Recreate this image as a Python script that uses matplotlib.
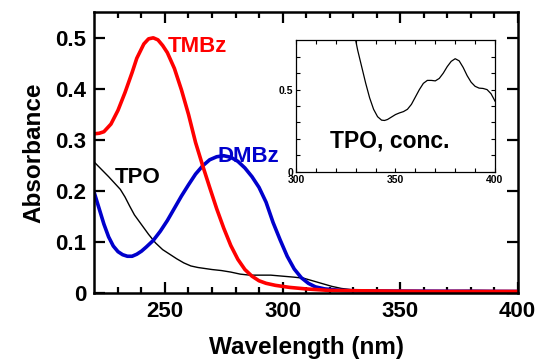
import matplotlib
matplotlib.use('Agg')
import matplotlib.pyplot as plt

plt.rcParams['font.family'] = ['Liberation Sans', 'DejaVu Sans']
plt.rcParams['font.weight'] = 'bold'

# main spectra (nm, absorbance)
wl_tmbz = [220, 222, 224, 227, 230, 233, 236, 238, 241, 243, 245, 247, 249, 251,
           254, 257, 260, 263, 266, 269, 272, 275, 278, 281, 284, 287, 290, 293,
           297, 303, 310, 320, 340, 360, 400]
abs_tmbz = [0.312, 0.313, 0.316, 0.331, 0.358, 0.393, 0.432, 0.46, 0.488, 0.498,
            0.50, 0.496, 0.485, 0.471, 0.44, 0.398, 0.35, 0.295, 0.25, 0.207,
            0.165, 0.127, 0.093, 0.066, 0.046, 0.033, 0.024, 0.019, 0.015, 0.011,
            0.008, 0.005, 0.004, 0.003, 0.003]

wl_dmbz = [220, 222, 224, 226, 228, 230, 232, 234, 236, 238, 240, 242, 245, 248,
           251, 254, 257, 260, 263, 266, 269, 272, 275, 278, 281, 284, 287, 290,
           293, 296, 299, 302, 305, 308, 311, 314, 318, 325, 335, 400]
abs_dmbz = [0.195, 0.165, 0.135, 0.11, 0.092, 0.081, 0.075, 0.072, 0.072, 0.076,
            0.082, 0.09, 0.103, 0.121, 0.142, 0.166, 0.19, 0.212, 0.233, 0.249,
            0.261, 0.267, 0.269, 0.266, 0.258, 0.245, 0.228, 0.207, 0.178, 0.138,
            0.104, 0.072, 0.047, 0.03, 0.019, 0.012, 0.008, 0.005, 0.004, 0.003]

wl_tpo = [220, 223, 226, 229, 231, 233, 235, 237, 240, 243, 246, 249, 252, 255,
          258, 261, 264, 267, 270, 274, 278, 282, 286, 290, 295, 300, 305, 309,
          312, 315, 318, 321, 325, 330, 340, 360, 380, 400]
abs_tpo = [0.256, 0.242, 0.228, 0.213, 0.203, 0.188, 0.17, 0.153, 0.134, 0.115,
           0.098, 0.085, 0.076, 0.067, 0.059, 0.053, 0.05, 0.048, 0.046, 0.044,
           0.041, 0.037, 0.035, 0.035, 0.035, 0.033, 0.031, 0.029, 0.025, 0.021,
           0.017, 0.013, 0.009, 0.006, 0.004, 0.004, 0.005, 0.004]

# concentrated TPO (inset)
wl_conc = [330, 331, 333, 335, 337, 339, 341, 343, 344.5, 346, 348, 350, 352, 354,
           356, 358, 360, 362, 364, 366, 368, 370, 372, 374, 376, 378, 380, 382,
           384, 386, 388, 390, 392, 394, 396, 398, 400]
abs_conc = [0.8, 0.74, 0.64, 0.54, 0.45, 0.38, 0.335, 0.314, 0.312, 0.318, 0.333,
            0.348, 0.358, 0.366, 0.38, 0.41, 0.455, 0.5, 0.538, 0.556, 0.556,
            0.553, 0.568, 0.6, 0.64, 0.672, 0.688, 0.675, 0.635, 0.585, 0.545,
            0.52, 0.509, 0.507, 0.5, 0.475, 0.43]

fig = plt.figure(figsize=(5.36, 3.6), dpi=100)
ax = fig.add_axes([0.1763, 0.1861, 0.7892, 0.7797])

ax.plot(wl_tpo, abs_tpo, color='black', lw=1.0)
ax.plot(wl_dmbz, abs_dmbz, color='#0000cc', lw=2.6)
ax.plot(wl_tmbz, abs_tmbz, color='#ff0000', lw=2.6)

ax.set_xlim(220, 400)
ax.set_ylim(0, 0.55)
ax.set_xticks([250, 300, 350, 400])
ax.set_xticks(range(230, 400, 10), minor=True)
ax.set_yticks([0, 0.1, 0.2, 0.3, 0.4, 0.5])
ax.set_yticklabels(['0', '0.1', '0.2', '0.3', '0.4', '0.5'])
ax.tick_params(which='both', direction='in', top=True, right=True, width=1.6,
               labelsize=16, pad=6)
ax.tick_params(which='major', length=8)
ax.tick_params(which='minor', length=4)
for sp in ax.spines.values():
    sp.set_linewidth(1.8)
for lab in ax.get_xticklabels() + ax.get_yticklabels():
    lab.set_fontweight('bold')

ax.set_xlabel('Wavelength (nm)', fontsize=17.5, fontweight='bold', labelpad=10)
ax.set_ylabel('Absorbance', fontsize=17.5, fontweight='bold', labelpad=7)

ax.text(251.3, 0.483, 'TMBz', color='#ff0000', fontsize=16, fontweight='bold',
        ha='left', va='center')
ax.text(272.3, 0.268, 'DMBz', color='#0000cc', fontsize=16, fontweight='bold',
        ha='left', va='center')
ax.text(228.8, 0.226, 'TPO', color='black', fontsize=16, fontweight='bold',
        ha='left', va='center')

# inset
ins = fig.add_axes([0.5522, 0.523, 0.3713, 0.365])
ins.plot(wl_conc, abs_conc, color='black', lw=0.9)
ins.set_xlim(300, 400)
ins.set_ylim(0, 0.8)
ins.set_xticks([300, 350, 400])
ins.set_xticks(range(310, 400, 10), minor=True)
ins.set_yticks([0, 0.5])
ins.set_yticklabels(['0', '0.5'])
ins.set_yticks([0.1, 0.2, 0.3, 0.4, 0.6, 0.7], minor=True)
ins.tick_params(which='both', direction='in', top=True, right=True, width=0.8,
                length=3, labelsize=7.5, pad=1.5)
ins.tick_params(axis='x', pad=2.5)
ins.tick_params(axis='y', pad=2)
for sp in ins.spines.values():
    sp.set_linewidth(0.9)
for lab in ins.get_xticklabels() + ins.get_yticklabels():
    lab.set_fontweight('bold')
ins.text(317, 0.19, 'TPO, conc.', color='black', fontsize=16.5, fontweight='bold',
         ha='left', va='center')

fig.savefig('out.png', dpi=100)
